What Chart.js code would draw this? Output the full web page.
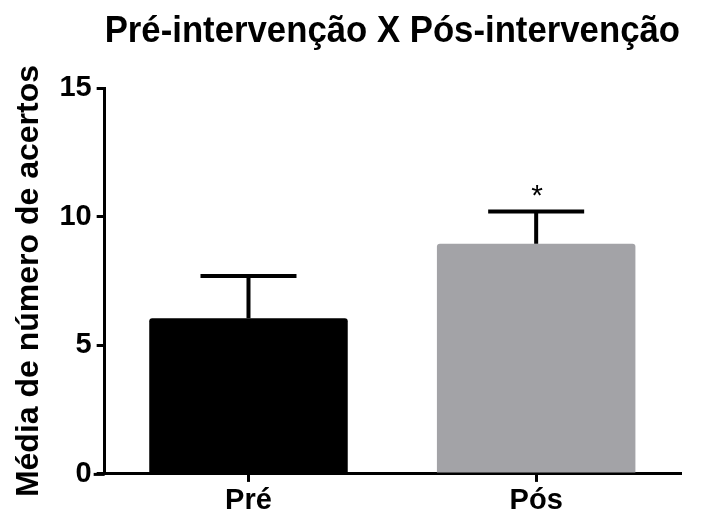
<!DOCTYPE html>
<html>
<head>
<meta charset="utf-8">
<script src="https://cdn.jsdelivr.net/npm/chart.js@4/dist/chart.umd.min.js"></script>
<style>
  html, body { margin: 0; padding: 0; background: #fff; }
  #wrap { width: 704px; height: 512px; }
</style>
</head>
<body>
<div id="wrap"><canvas id="grafico" width="704" height="512"></canvas></div>
<script>
// Pré X Pós intervenção — média de acertos com barra de erro (desvio)

const categorias = ["Pré", "Pós"];
const medias = [6.05, 8.95];
const erros = [1.65, 1.25];          // só a metade de cima é desenhada
const marcas = ["", "*"];            // asterisco de significância
const yTicks = [0, 5, 10, 15];
const cores = ["#000000", "#a3a3a7"];

const FONTE = "'Liberation Sans', Arial, sans-serif";

// barras de erro + asterisco, desenhadas por cima das barras
const errorBars = {
  id: "errorBars",
  afterDatasetsDraw(chart) {
    const { ctx, scales, chartArea } = chart;
    const meta = chart.getDatasetMeta(0);
    ctx.save();
    ctx.strokeStyle = "#000";
    // o eixo x passa um pouco à esquerda do eixo y
    ctx.lineWidth = 3;
    ctx.beginPath();
    ctx.moveTo(chartArea.left - 11, chartArea.bottom + 0.5);
    ctx.lineTo(chartArea.left, chartArea.bottom + 0.5);
    ctx.stroke();

    ctx.lineWidth = 4;
    meta.data.forEach((bar, i) => {
      const x = bar.x;
      const yTop = scales.y.getPixelForValue(medias[i] + erros[i]);
      const yBase = scales.y.getPixelForValue(medias[i]);
      const meia = 48;
      ctx.beginPath();
      ctx.moveTo(x, yBase);
      ctx.lineTo(x, yTop);
      ctx.moveTo(x - meia, yTop);
      ctx.lineTo(x + meia, yTop);
      ctx.stroke();
      if (marcas[i]) {
        ctx.fillStyle = "#000";
        ctx.font = "30px " + FONTE;
        ctx.textAlign = "center";
        ctx.textBaseline = "middle";
        ctx.fillText(marcas[i], x + 1, yTop - 15);
      }
    });
    ctx.restore();
  },
};

new Chart(document.getElementById("grafico"), {
  type: "bar",
  data: {
    labels: categorias,
    datasets: [{
      data: medias,
      backgroundColor: cores,
      borderRadius: 3,
      borderSkipped: "bottom",
      categoryPercentage: 1,
      barPercentage: 0.69,
    }],
  },
  options: {
    responsive: false,
    animation: false,
    layout: { padding: { top: 0, right: 24, bottom: -8, left: 10 } },
    plugins: {
      legend: { display: false },
      tooltip: { enabled: false },
      title: {
        display: true,
        fullSize: false,
        text: "Pré-intervenção X Pós-intervenção",
        color: "#000",
        font: { family: FONTE, size: 36, weight: "bold" },
        padding: { top: 10, bottom: 35 },
      },
    },
    scales: {
      x: {
        grid: { display: true, offset: false, drawOnChartArea: false, drawTicks: true, tickLength: 8, color: "#000", lineWidth: 3 },
        border: { display: true, color: "#000", width: 3 },
        ticks: { color: "#000", font: { family: FONTE, size: 29, weight: "bold", lineHeight: 0.9 }, padding: 6 },
      },
      y: {
        min: 0,
        max: 15,
        afterBuildTicks: (axis) => { axis.ticks = yTicks.map((v) => ({ value: v })); },
        grid: { display: true, drawOnChartArea: false, drawTicks: true, tickLength: 8, color: "#000", lineWidth: 3 },
        border: { display: true, color: "#000", width: 3 },
        ticks: { color: "#000", font: { family: FONTE, size: 29, weight: "bold" }, padding: 5 },
        title: {
          display: true,
          text: "Média de número de acertos",
          color: "#000",
          font: { family: FONTE, size: 32, weight: "bold" },
          padding: { top: 0, bottom: 6 },
        },
      },
    },
  },
  plugins: [errorBars],
});
</script>
</body>
</html>
